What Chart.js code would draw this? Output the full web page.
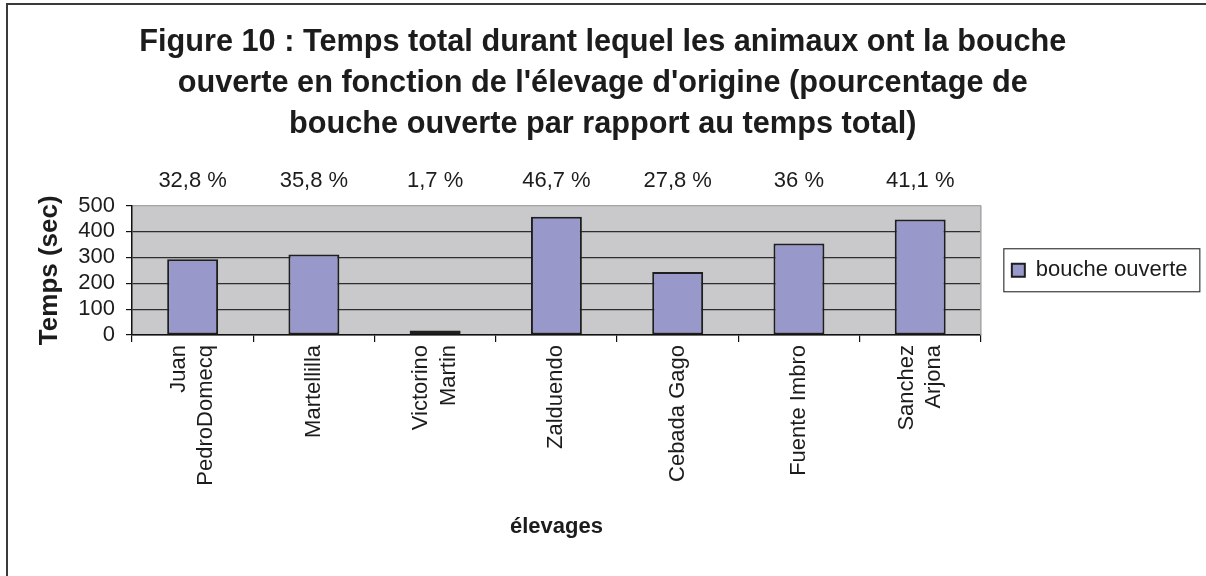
<!DOCTYPE html>
<html><head><meta charset="utf-8">
<script src="https://cdn.jsdelivr.net/npm/chart.js@4.4.1/dist/chart.umd.min.js"></script>
<style>html,body{margin:0;padding:0;background:#fff}#wrap{width:1206px;height:576px;position:relative}</style>
</head><body><div id="wrap"><canvas id="c"></canvas></div>
<script>
const categories = [['Juan','PedroDomecq'], 'Martellilla', ['Victorino','Martin'], 'Zalduendo', 'Cebada Gago', 'Fuente Imbro', ['Sanchez','Arjona']];
const tempsBoucheOuverte = [292, 311, 17, 457, 243, 353, 446];
const pourcentages = ['32,8 %', '35,8 %', '1,7 %', '46,7 %', '27,8 %', '36 %', '41,1 %'];
const titleLines = ['Figure 10 : Temps total durant lequel les animaux ont la bouche', "ouverte en fonction de l'élevage d'origine (pourcentage de", 'bouche ouverte par rapport au temps total)'];
const seriesName = 'bouche ouverte';
const yTitle = 'Temps (sec)';
const xTitle = 'élevages';

const FF = "'Liberation Sans', Arial, sans-serif";
const TXT = '#1c1c1c';
const X_LINE_H = 1.25;

const framePlugin = {
  id: 'frame',
  beforeDraw(chart) {
    const ctx = chart.ctx, a = chart.chartArea;
    ctx.save();
    ctx.fillStyle = '#ffffff';
    ctx.fillRect(0, 0, chart.width, chart.height);
    ctx.strokeStyle = '#3a3a3a';
    ctx.lineWidth = 2;
    ctx.strokeRect(7, 4, chart.width + 20, chart.height + 20);
    ctx.fillStyle = '#c9c9cb';
    ctx.fillRect(a.left, a.top, a.right - a.left, a.bottom - a.top);
    ctx.restore();
    // centre multi-line rotated category labels on their tick
    const xs = chart.scales.x;
    if (xs) {
      const items = xs.getLabelItems();
      const lh = xs.options.ticks.font.size * X_LINE_H;
      items.forEach(it => {
        if (Array.isArray(it.label) && it.label.length > 1) {
          it.textOffset = lh / 2 - (it.label.length - 1) * lh / 2;
        }
      });
    }
  },
  beforeDatasetsDraw(chart) {
    const ctx = chart.ctx, a = chart.chartArea;
    ctx.save();
    ctx.strokeStyle = '#a4a4a6';
    ctx.lineWidth = 1.5;
    ctx.beginPath();
    ctx.moveTo(a.right, a.top);
    ctx.lineTo(a.right, a.bottom);
    ctx.stroke();
    ctx.restore();
  },
  afterDraw(chart) {
    const lg = chart.legend;
    if (!lg || !lg.legendHitBoxes || !lg.legendHitBoxes.length) return;
    const hb = lg.legendHitBoxes[0];
    const ctx = chart.ctx;
    const cy = hb.top + hb.height / 2;
    ctx.save();
    ctx.strokeStyle = '#3a3a3a';
    ctx.lineWidth = 1.2;
    ctx.strokeRect(hb.left - 8, cy - 21.5, 196, 43);
    ctx.restore();
  }
};

new Chart(document.getElementById('c'), {
  type: 'bar',
  data: {
    labels: categories,
    datasets: [{
      label: seriesName,
      data: tempsBoucheOuverte,
      backgroundColor: '#9898cb',
      borderColor: '#1e1e1e',
      borderWidth: 2,
      borderSkipped: false,
      categoryPercentage: 1,
      barPercentage: 0.42,
      xAxisID: 'x',
      yAxisID: 'y'
    }]
  },
  options: {
    responsive: true,
    maintainAspectRatio: false,
    animation: false,
    devicePixelRatio: 1,
    layout: { padding: { left: 8, right: 8.5, top: 0, bottom: 0 } },
    plugins: {
      tooltip: { enabled: false },
      title: {
        display: true,
        text: titleLines,
        color: TXT,
        font: { family: FF, size: 30.7, weight: 'bold', lineHeight: 41 / 30.7 },
        padding: { top: 22, bottom: 0 }
      },
      legend: {
        display: true,
        position: 'right',
        fullSize: false,
        labels: {
          color: TXT,
          font: { family: FF, size: 22 },
          boxWidth: 13,
          boxHeight: 13,
          padding: 10
        }
      }
    },
    scales: {
      x: {
        type: 'category',
        position: 'bottom',
        offset: true,
        grid: { display: true, drawOnChartArea: false, drawTicks: true, tickLength: 7, offset: true, color: '#111', lineWidth: 1.2 },
        border: { display: true, color: '#111', width: 1.5 },
        ticks: { color: TXT, font: { family: FF, size: 22, lineHeight: X_LINE_H }, minRotation: 90, maxRotation: 90, padding: 3, autoSkip: false },
        title: { display: true, text: xTitle, color: TXT, font: { family: FF, size: 22, weight: 'bold' }, padding: { top: 0, bottom: 35.8 } },
        afterFit(s) { s.height = 241; }
      },
      xTop: {
        type: 'category',
        position: 'top',
        labels: pourcentages,
        offset: true,
        grid: { display: false },
        border: { display: false },
        ticks: { color: TXT, font: { family: FF, size: 22 }, padding: 3, maxRotation: 0, autoSkip: false },
        afterFit(s) { s.height = 60.5; }
      },
      y: {
        type: 'linear',
        position: 'left',
        min: 0,
        max: 500,
        ticks: { stepSize: 100, autoSkip: false, color: TXT, font: { family: FF, size: 22 }, padding: 11 },
        grid: {
          color: (c) => (c.tick && c.tick.value === 500) ? '#a4a4a6' : '#2e2e2e',
          tickColor: '#111',
          lineWidth: 1.2,
          tickLength: 6,
          drawTicks: true
        },
        border: { display: true, color: '#111', width: 1.5 },
        title: { display: true, text: yTitle, color: TXT, font: { family: FF, size: 26, weight: 'bold' }, padding: { top: 26.4, bottom: 0 } },
        afterFit(s) { s.width = 124; }
      },
      yR: {
        type: 'linear',
        position: 'right',
        display: true,
        grid: { display: false },
        border: { display: false },
        ticks: { display: false },
        afterFit(s) { s.width = 21; }
      }
    }
  },
  plugins: [framePlugin]
});
</script></body></html>
